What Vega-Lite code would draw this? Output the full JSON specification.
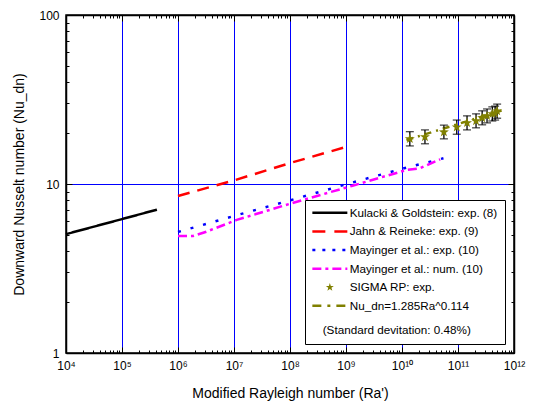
{
  "$schema": "https://vega.github.io/schema/vega-lite/v6.json",
  "width": 448,
  "height": 338,
  "autosize": {"type": "none"},
  "padding": {"left": 66, "top": 15, "right": 19, "bottom": 54},
  "config": {
    "font": "Liberation Sans",
    "view": {"stroke": "black", "strokeWidth": 1.5},
    "axis": {
      "domainColor": "black", "domainWidth": 1.5, "tickColor": "black", "tickWidth": 1,
      "labelColor": "black", "labelFont": "Liberation Sans", "labelFontSize": 12,
      "titleFont": "Liberation Sans", "titleFontSize": 14, "titleFontWeight": "normal", "titleColor": "black",
      "gridColor": "#0000ff", "gridWidth": 1
    },
    "legend": {
      "orient": "bottom-right", "offset": 9, "title": null,
      "fillColor": "white", "strokeColor": "black", "padding": 7,
      "symbolType": "M-3,0L3,0", "symbolSize": 136, "symbolStrokeWidth": 2.5,
      "symbolOffset": 12, "labelOffset": 14, "labelFont": "Liberation Sans", "labelFontSize": 11.7,
      "labelColor": "black", "labelLimit": 0, "rowPadding": 5.6
    }
  },
  "datasets": {
    "lines": [
      {"series": "Kulacki & Goldstein: exp. (8)", "ra": 1e4, "nu": 5.05},
      {"series": "Kulacki & Goldstein: exp. (8)", "ra": 1e5, "nu": 6.2},
      {"series": "Kulacki & Goldstein: exp. (8)", "ra": 4.2e5, "nu": 7.05},
      {"series": "Jahn & Reineke: exp. (9)", "ra": 1e6, "nu": 8.5},
      {"series": "Jahn & Reineke: exp. (9)", "ra": 1e7, "nu": 10.5},
      {"series": "Jahn & Reineke: exp. (9)", "ra": 1e8, "nu": 13.3},
      {"series": "Jahn & Reineke: exp. (9)", "ra": 9e8, "nu": 16.4},
      {"series": "Mayinger et al.: exp. (10)", "ra": 1e6, "nu": 5.2},
      {"series": "Mayinger et al.: exp. (10)", "ra": 1e7, "nu": 6.47},
      {"series": "Mayinger et al.: exp. (10)", "ra": 1e8, "nu": 8.0},
      {"series": "Mayinger et al.: exp. (10)", "ra": 1e9, "nu": 9.96},
      {"series": "Mayinger et al.: exp. (10)", "ra": 1e10, "nu": 12.3},
      {"series": "Mayinger et al.: exp. (10)", "ra": 5.5e10, "nu": 14.2},
      {"series": "Mayinger et al.: num. (10)", "ra": 1e6, "nu": 4.92},
      {"series": "Mayinger et al.: num. (10)", "ra": 1.85e6, "nu": 4.92},
      {"series": "Mayinger et al.: num. (10)", "ra": 3.2e6, "nu": 5.22},
      {"series": "Mayinger et al.: num. (10)", "ra": 1.12e7, "nu": 6.13},
      {"series": "Mayinger et al.: num. (10)", "ra": 1.15e8, "nu": 7.75},
      {"series": "Mayinger et al.: num. (10)", "ra": 1.26e9, "nu": 9.73},
      {"series": "Mayinger et al.: num. (10)", "ra": 1.2e10, "nu": 12.1},
      {"series": "Mayinger et al.: num. (10)", "ra": 2.1e10, "nu": 12.4},
      {"series": "Mayinger et al.: num. (10)", "ra": 4.8e10, "nu": 14.0},
      {"series": "Nu_dn=1.285Ra^0.114", "ra": 1.2e10, "nu": 18.2},
      {"series": "Nu_dn=1.285Ra^0.114", "ra": 6.0e11, "nu": 27.2}
    ],
    "pts": [
      {"ra": 1.38e10, "nu": 18.5, "lo": 16.8, "hi": 20.4},
      {"ra": 2.57e10, "nu": 19.0, "lo": 17.3, "hi": 20.9},
      {"ra": 5.6e10, "nu": 20.3, "lo": 18.5, "hi": 22.3},
      {"ra": 9.5e10, "nu": 21.7, "lo": 19.7, "hi": 23.9},
      {"ra": 1.45e11, "nu": 23.0, "lo": 20.9, "hi": 25.3},
      {"ra": 2.1e11, "nu": 23.6, "lo": 21.5, "hi": 26.0},
      {"ra": 2.7e11, "nu": 24.6, "lo": 22.4, "hi": 27.1},
      {"ra": 3.3e11, "nu": 25.3, "lo": 23.0, "hi": 27.8},
      {"ra": 4.1e11, "nu": 26.0, "lo": 23.6, "hi": 28.6},
      {"ra": 4.6e11, "nu": 26.3, "lo": 23.9, "hi": 28.9},
      {"ra": 5.0e11, "nu": 27.0, "lo": 24.5, "hi": 29.7}
    ]
  },
  "layer": [
    {
      "data": {"name": "lines"},
      "mark": {"type": "line", "strokeWidth": 2.5},
      "encoding": {
        "x": {
          "field": "ra", "type": "quantitative",
          "scale": {"type": "log", "domain": [1e4, 1e12], "nice": false},
          "axis": {
            "orient": "bottom", "title": "Modified Rayleigh number (Ra')",
            "values": [1e4,2e4,3e4,4e4,5e4,6e4,7e4,8e4,9e4,1e5,2e5,3e5,4e5,5e5,6e5,7e5,8e5,9e5,1e6,2e6,3e6,4e6,5e6,6e6,7e6,8e6,9e6,1e7,2e7,3e7,4e7,5e7,6e7,7e7,8e7,9e7,1e8,2e8,3e8,4e8,5e8,6e8,7e8,8e8,9e8,1e9,2e9,3e9,4e9,5e9,6e9,7e9,8e9,9e9,1e10,2e10,3e10,4e10,5e10,6e10,7e10,8e10,9e10,1e11,2e11,3e11,4e11,5e11,6e11,7e11,8e11,9e11,1e12],
            "labelExpr": "abs(log(datum.value)/LN10 - round(log(datum.value)/LN10)) < 0.001 ? ['10⁴','10⁵','10⁶','10⁷','10⁸','10⁹','10¹⁰','10¹¹','10¹²'][round(log(datum.value)/LN10)-4] : ''",
            "labelOverlap": false, "labelFlush": false, "labelPadding": 13, "titlePadding": 12,
            "tickSize": {"condition": {"test": "abs(log(datum.value)/LN10 - round(log(datum.value)/LN10)) < 0.001", "value": -6}, "value": -3},
            "grid": true,
            "gridOpacity": {"condition": {"test": "abs(log(datum.value)/LN10 - round(log(datum.value)/LN10)) < 0.001 && datum.value > 2e4 && datum.value < 5e11", "value": 1}, "value": 0}
          }
        },
        "y": {
          "field": "nu", "type": "quantitative",
          "scale": {"type": "log", "domain": [1, 100], "nice": false},
          "axis": {
            "orient": "left", "title": "Downward Nusselt number (Nu_dn)",
            "values": [1,2,3,4,5,6,7,8,9,10,20,30,40,50,60,70,80,90,100],
            "labelExpr": "datum.value == 1 ? '1' : datum.value == 10 ? '10' : datum.value == 100 ? '100' : ''",
            "labelOverlap": false, "labelPadding": 13, "titlePadding": 12,
            "tickSize": {"condition": {"test": "datum.value == 1 || datum.value == 10 || datum.value == 100", "value": -6}, "value": -3},
            "grid": true,
            "gridOpacity": {"condition": {"test": "datum.value == 10", "value": 1}, "value": 0}
          }
        },
        "color": {
          "field": "series", "type": "nominal",
          "scale": {
            "domain": ["Kulacki & Goldstein: exp. (8)", "Jahn & Reineke: exp. (9)", "Mayinger et al.: exp. (10)", "Mayinger et al.: num. (10)", "SIGMA RP: exp.", "Nu_dn=1.285Ra^0.114", "(Standard devitation: 0.48%)"],
            "range": ["#000000", "#ff0000", "#0000ff", "#ff00ff", "#808000", "#808000", "rgba(0,0,0,0)"]
          },
          "legend": {
            "encode": {
              "symbols": {"update": {
                "shape": {"signal": "datum.value === 'SIGMA RP: exp.' ? 'M0,-1L0.235,-0.324L0.951,-0.309L0.38,0.124L0.588,0.809L0,0.4L-0.588,0.809L-0.38,0.124L-0.951,-0.309L-0.235,-0.324Z' : 'M-3,0L3,0'"},
                "size": {"signal": "datum.value === 'SIGMA RP: exp.' ? 70 : 136"},
                "fill": {"signal": "datum.value === 'SIGMA RP: exp.' ? '#808000' : 'transparent'"},
                "strokeWidth": {"signal": "datum.value === 'SIGMA RP: exp.' ? 0 : 2.5"},
                "strokeDash": {"signal": "datum.value === 'Jahn & Reineke: exp. (9)' ? [13,9] : datum.value === 'Mayinger et al.: exp. (10)' ? [3,7] : datum.value === 'Mayinger et al.: num. (10)' ? [9,4,3,4] : datum.value === 'Nu_dn=1.285Ra^0.114' ? [9,6,3,6] : [1,0]"}
              }},
              "labels": {"update": {
                "dx": {"signal": "datum.value === '(Standard devitation: 0.48%)' ? -27 : 0"},
                "dy": {"signal": "datum.value === '(Standard devitation: 0.48%)' ? 5.5 : 0"}
              }}
            }
          }
        },
        "strokeDash": {
          "field": "series", "type": "nominal",
          "scale": {
            "domain": ["Kulacki & Goldstein: exp. (8)", "Jahn & Reineke: exp. (9)", "Mayinger et al.: exp. (10)", "Mayinger et al.: num. (10)", "Nu_dn=1.285Ra^0.114"],
            "range": [[1, 0], [12, 8], [3, 10], [9, 4, 3, 4], [7, 5, 2, 5]]
          },
          "legend": null
        }
      }
    },
    {
      "data": {"name": "pts"},
      "mark": {"type": "rule", "color": "black", "strokeWidth": 1.3},
      "encoding": {
        "x": {
          "field": "ra", "type": "quantitative",
          "scale": {"type": "log", "domain": [1e4, 1e12], "nice": false},
          "axis": {
            "orient": "top", "title": null, "labels": false, "grid": false,
            "values": [1e4,2e4,3e4,4e4,5e4,6e4,7e4,8e4,9e4,1e5,2e5,3e5,4e5,5e5,6e5,7e5,8e5,9e5,1e6,2e6,3e6,4e6,5e6,6e6,7e6,8e6,9e6,1e7,2e7,3e7,4e7,5e7,6e7,7e7,8e7,9e7,1e8,2e8,3e8,4e8,5e8,6e8,7e8,8e8,9e8,1e9,2e9,3e9,4e9,5e9,6e9,7e9,8e9,9e9,1e10,2e10,3e10,4e10,5e10,6e10,7e10,8e10,9e10,1e11,2e11,3e11,4e11,5e11,6e11,7e11,8e11,9e11,1e12],
            "tickSize": {"condition": {"test": "abs(log(datum.value)/LN10 - round(log(datum.value)/LN10)) < 0.001", "value": -6}, "value": -3}
          }
        },
        "y": {
          "field": "lo", "type": "quantitative",
          "scale": {"type": "log", "domain": [1, 100], "nice": false},
          "axis": {
            "orient": "right", "title": null, "labels": false, "grid": false,
            "values": [1,2,3,4,5,6,7,8,9,10,20,30,40,50,60,70,80,90,100],
            "tickSize": {"condition": {"test": "datum.value == 1 || datum.value == 10 || datum.value == 100", "value": -6}, "value": -3}
          }
        },
        "y2": {"field": "hi"}
      }
    },
    {
      "data": {"name": "pts"},
      "mark": {"type": "tick", "orient": "horizontal", "color": "black", "size": 8, "thickness": 1.3},
      "encoding": {
        "x": {"field": "ra", "type": "quantitative", "scale": {"type": "log", "domain": [1e4, 1e12], "nice": false}, "axis": null},
        "y": {"field": "lo", "type": "quantitative", "scale": {"type": "log", "domain": [1, 100], "nice": false}, "axis": null}
      }
    },
    {
      "data": {"name": "pts"},
      "mark": {"type": "tick", "orient": "horizontal", "color": "black", "size": 8, "thickness": 1.3},
      "encoding": {
        "x": {"field": "ra", "type": "quantitative", "scale": {"type": "log", "domain": [1e4, 1e12], "nice": false}, "axis": null},
        "y": {"field": "hi", "type": "quantitative", "scale": {"type": "log", "domain": [1, 100], "nice": false}, "axis": null}
      }
    },
    {
      "data": {"name": "pts"},
      "mark": {"type": "point", "filled": true, "opacity": 1, "color": "#808000", "size": 110, "strokeWidth": 0,
        "shape": "M0,-1L0.235,-0.324L0.951,-0.309L0.38,0.124L0.588,0.809L0,0.4L-0.588,0.809L-0.38,0.124L-0.951,-0.309L-0.235,-0.324Z"},
      "encoding": {
        "x": {"field": "ra", "type": "quantitative", "scale": {"type": "log", "domain": [1e4, 1e12], "nice": false}, "axis": null},
        "y": {"field": "nu", "type": "quantitative", "scale": {"type": "log", "domain": [1, 100], "nice": false}, "axis": null}
      }
    }
  ],
  "resolve": {"axis": {"x": "independent", "y": "independent"}}
}
